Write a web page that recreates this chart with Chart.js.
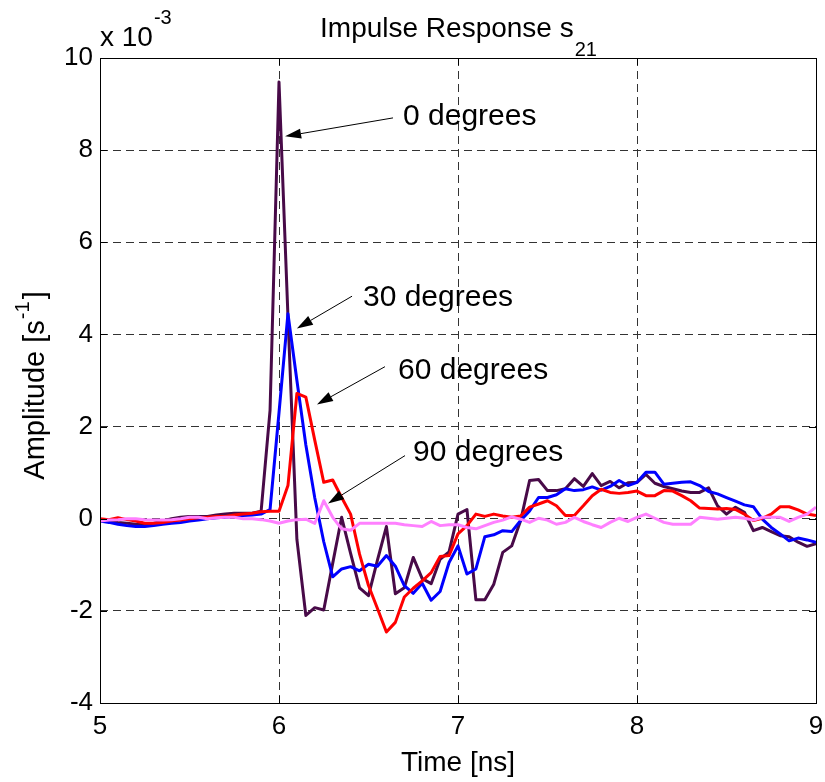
<!DOCTYPE html>
<html>
<head>
<meta charset="utf-8">
<title>Impulse Response s21</title>
<script src="https://cdn.jsdelivr.net/npm/chart.js@4.4.1/dist/chart.umd.min.js"></script>
<style>
  html, body { margin: 0; padding: 0; background: #fff; }
  #chart { display: block; }
</style>
</head>
<body>
<canvas id="chart" width="825" height="782"></canvas>
<script>
// time samples [ns]
const times = [
  5.00, 5.05, 5.10, 5.15, 5.20, 5.25, 5.30, 5.35, 5.40, 5.45,
  5.50, 5.55, 5.60, 5.65, 5.70, 5.75, 5.80, 5.85, 5.90, 5.95,
  6.00, 6.05, 6.10, 6.15, 6.20, 6.25, 6.30, 6.35, 6.40, 6.45,
  6.50, 6.55, 6.60, 6.65, 6.70, 6.75, 6.80, 6.85, 6.90, 6.95,
  7.00, 7.05, 7.10, 7.15, 7.20, 7.25, 7.30, 7.35, 7.40, 7.45,
  7.50, 7.55, 7.60, 7.65, 7.70, 7.75, 7.80, 7.85, 7.90, 7.95,
  8.00, 8.05, 8.10, 8.15, 8.20, 8.25, 8.30, 8.35, 8.40, 8.45,
  8.50, 8.55, 8.60, 8.65, 8.70, 8.75, 8.80, 8.85, 8.90, 8.95,
  9.00
];

// amplitudes in units of 1e-3 s^-1
const deg0 = [
  -0.05, -0.05, -0.08, -0.10, -0.12, -0.12, -0.10, -0.05, 0.00, 0.03,
  0.05, 0.05, 0.05, 0.08, 0.10, 0.12, 0.12, 0.12, 0.16, 2.35,
  9.48, 4.40, -0.45, -2.10, -1.93, -1.98, -0.97, 0.03, -0.75, -1.50,
  -1.67, -0.90, -0.17, -1.63, -1.50, -0.84, -1.30, -1.41, -0.88, -0.72,
  0.10, 0.20, -1.76, -1.76, -1.42, -0.73, -0.59, -0.04, 0.83, 0.85,
  0.61, 0.61, 0.65, 0.87, 0.70, 0.98, 0.72, 0.81, 0.67, 0.78,
  0.79, 0.96, 0.77, 0.70, 0.65, 0.60, 0.57, 0.57, 0.67, 0.28,
  0.10, 0.25, 0.14, -0.26, -0.19, -0.28, -0.37, -0.39, -0.51, -0.60,
  -0.54
];
const deg30 = [
  -0.05, -0.08, -0.12, -0.15, -0.17, -0.17, -0.15, -0.12, -0.10, -0.08,
  -0.05, -0.03, 0.00, 0.02, 0.03, 0.05, 0.07, 0.08, 0.10, 0.20,
  2.30, 4.45, 3.00, 1.60, 0.45, -0.50, -1.26, -1.09, -1.04, -1.13,
  -0.99, -1.03, -0.80, -1.03, -1.45, -1.62, -1.40, -1.77, -1.58, -0.95,
  -0.59, -1.20, -1.09, -0.39, -0.35, -0.26, -0.28, -0.04, 0.17, 0.46,
  0.46, 0.52, 0.65, 0.61, 0.63, 0.69, 0.62, 0.70, 0.83, 0.72,
  0.79, 1.01, 1.01, 0.75, 0.77, 0.79, 0.80, 0.72, 0.59, 0.54,
  0.46, 0.38, 0.30, 0.26, -0.01, -0.19, -0.33, -0.48, -0.42, -0.46,
  -0.51
];
const deg60 = [
  0.00, -0.02, 0.02, -0.02, -0.05, -0.10, -0.10, -0.08, -0.05, -0.03,
  0.00, 0.02, 0.03, 0.05, 0.05, 0.08, 0.10, 0.12, 0.15, 0.16,
  0.16, 0.72, 2.72, 2.64, 1.70, 0.79, 0.84, 0.46, 0.10, -0.77,
  -1.45, -1.95, -2.46, -2.25, -1.70, -1.51, -1.35, -1.17, -0.82, -0.80,
  -0.33, -0.15, 0.10, 0.05, 0.10, 0.06, 0.03, 0.06, 0.25, 0.32,
  0.39, 0.28, 0.07, 0.07, 0.28, 0.50, 0.64, 0.57, 0.55, 0.57,
  0.60, 0.50, 0.50, 0.61, 0.60, 0.50, 0.39, 0.23, 0.22, 0.21,
  0.22, 0.20, 0.10, -0.04, 0.01, 0.10, 0.26, 0.26, 0.19, 0.10,
  0.07
];
const deg90 = [
  -0.05, -0.03, -0.02, 0.00, 0.00, -0.02, -0.03, -0.03, -0.02, 0.00,
  0.03, 0.03, 0.00, 0.02, 0.03, 0.03, 0.00, 0.00, -0.02, -0.05,
  -0.10, -0.05, -0.02, -0.01, -0.10, 0.39, 0.03, -0.22, -0.25, -0.10,
  -0.10, -0.10, -0.10, -0.10, -0.13, -0.15, -0.17, -0.06, -0.15, -0.13,
  -0.13, -0.19, -0.22, -0.15, -0.08, -0.03, 0.04, -0.01, -0.08, 0.01,
  -0.03, -0.12, -0.08, 0.03, -0.06, -0.13, -0.19, -0.08, 0.01, -0.06,
  0.03, 0.10, 0.01, -0.08, -0.12, -0.12, -0.12, 0.03, 0.01, -0.01,
  0.01, 0.03, 0.01, -0.03, 0.03, 0.03, 0.03, -0.06, 0.03, 0.10,
  0.25
];

// annotation text with arrow: tip, tail and text anchor in data units
const notes = [
  { text: '0 degrees',  tip: [6.034, 8.30], tail: [6.637, 8.70], at: [6.693, 8.72] },
  { text: '30 degrees', tip: [6.100, 4.13], tail: [6.408, 4.83], at: [6.469, 4.80] },
  { text: '60 degrees', tip: [6.212, 2.48], tail: [6.592, 3.30], at: [6.665, 3.22] },
  { text: '90 degrees', tip: [6.274, 0.33], tail: [6.704, 1.37], at: [6.749, 1.43] }
];

const FONT = '"Liberation Sans", Arial, Helvetica, sans-serif';

function toPoints(vals) {
  return vals.map((v, i) => ({ x: times[i], y: v }));
}

// frame, inward ticks, titles and annotations (MATLAB style)
const matlabDecor = {
  id: 'matlabDecor',
  afterDraw(chart) {
    const ctx = chart.ctx;
    const a = chart.chartArea;
    const xs = chart.scales.x, ys = chart.scales.y;
    ctx.save();
    ctx.setLineDash([]);
    ctx.strokeStyle = '#000';
    ctx.lineWidth = 1;
    ctx.strokeRect(Math.round(a.left) + 0.5, Math.round(a.top) + 0.5,
                   Math.round(a.right - a.left), Math.round(a.bottom - a.top));

    // inward tick marks on all four sides
    const tl = 7;
    ctx.beginPath();
    xs.ticks.forEach(t => {
      const px = Math.round(xs.getPixelForValue(t.value)) + 0.5;
      ctx.moveTo(px, a.bottom); ctx.lineTo(px, a.bottom - tl);
      ctx.moveTo(px, a.top); ctx.lineTo(px, a.top + tl);
    });
    ys.ticks.forEach(t => {
      const py = Math.round(ys.getPixelForValue(t.value)) + 0.5;
      ctx.moveTo(a.left, py); ctx.lineTo(a.left + tl, py);
      ctx.moveTo(a.right, py); ctx.lineTo(a.right - tl, py);
    });
    ctx.stroke();

    ctx.fillStyle = '#000';
    ctx.textBaseline = 'alphabetic';
    const cx = (a.left + a.right) / 2;

    // title with subscript
    ctx.font = '28px ' + FONT;
    const mainT = 'Impulse Response s';
    const wMain = ctx.measureText(mainT).width;
    ctx.font = '20px ' + FONT;
    const wSub = ctx.measureText('21').width;
    let x0 = cx - (wMain + wSub) / 2;
    ctx.textAlign = 'left';
    ctx.font = '28px ' + FONT;
    ctx.fillText(mainT, x0, 37);
    ctx.font = '20px ' + FONT;
    ctx.fillText('21', x0 + wMain + 1, 56);

    // x axis title
    ctx.font = '28px ' + FONT;
    ctx.textAlign = 'center';
    ctx.fillText('Time [ns]', cx, 771);

    // exponent label
    ctx.textAlign = 'left';
    ctx.font = '28px ' + FONT;
    ctx.fillText('x 10', a.left, 46);
    const wx = ctx.measureText('x 10').width;
    ctx.font = '20px ' + FONT;
    ctx.fillText('-3', a.left + wx + 1, 24);

    // y axis title, rotated
    ctx.save();
    ctx.translate(44, (a.top + a.bottom) / 2 + 5);
    ctx.rotate(-Math.PI / 2);
    ctx.font = '29px ' + FONT;
    const yMain = 'Amplitude [s';
    const wy1 = ctx.measureText(yMain).width;
    ctx.font = '20px ' + FONT;
    const wy2 = ctx.measureText('-1').width;
    ctx.font = '29px ' + FONT;
    const wy3 = ctx.measureText(']').width;
    let sx = -(wy1 + wy2 + wy3 + 3) / 2;
    ctx.fillText(yMain, sx, 0);
    ctx.font = '20px ' + FONT;
    ctx.fillText('-1', sx + wy1 + 1, -15);
    ctx.font = '29px ' + FONT;
    ctx.fillText(']', sx + wy1 + wy2 + 3, 0);
    ctx.restore();

    // annotations with arrows
    ctx.font = '30px ' + FONT;
    ctx.textBaseline = 'middle';
    ctx.textAlign = 'left';
    notes.forEach(n => {
      const tx = xs.getPixelForValue(n.tip[0]), ty = ys.getPixelForValue(n.tip[1]);
      const bx = xs.getPixelForValue(n.tail[0]), by = ys.getPixelForValue(n.tail[1]);
      const ang = Math.atan2(ty - by, tx - bx);
      const hl = 16, hw = 5;
      const baseX = tx - hl * Math.cos(ang), baseY = ty - hl * Math.sin(ang);
      ctx.beginPath();
      ctx.moveTo(bx, by);
      ctx.lineTo(baseX, baseY);
      ctx.stroke();
      ctx.beginPath();
      ctx.moveTo(tx, ty);
      ctx.lineTo(baseX + hw * Math.sin(ang), baseY - hw * Math.cos(ang));
      ctx.lineTo(baseX - hw * Math.sin(ang), baseY + hw * Math.cos(ang));
      ctx.closePath();
      ctx.fill();
      ctx.fillText(n.text, xs.getPixelForValue(n.at[0]), ys.getPixelForValue(n.at[1]));
    });
    ctx.restore();
  }
};

const lineDefaults = {
  borderWidth: 3,
  pointRadius: 0,
  tension: 0,
  fill: false,
  borderJoinStyle: 'round'
};

new Chart(document.getElementById('chart').getContext('2d'), {
  type: 'line',
  data: {
    datasets: [
      Object.assign({ label: '0 degrees',  data: toPoints(deg0),  borderColor: '#480a48', order: 3 }, lineDefaults),
      Object.assign({ label: '30 degrees', data: toPoints(deg30), borderColor: '#0000ff', order: 2 }, lineDefaults),
      Object.assign({ label: '60 degrees', data: toPoints(deg60), borderColor: '#ff0000', order: 1 }, lineDefaults),
      Object.assign({ label: '90 degrees', data: toPoints(deg90), borderColor: '#ff80ff', order: 0 }, lineDefaults)
    ]
  },
  options: {
    responsive: false,
    animation: false,
    layout: { padding: { left: 0, right: 9, top: 58, bottom: 0 } },
    plugins: {
      legend: { display: false },
      title: { display: false },
      tooltip: { enabled: false }
    },
    scales: {
      x: {
        type: 'linear',
        min: 5,
        max: 9,
        afterFit: s => { s.height = 79; s.paddingLeft = 0; s.paddingRight = 0; },
        ticks: {
          stepSize: 1,
          color: '#000',
          padding: 8,
          maxRotation: 0,
          font: { family: FONT, size: 26 }
        },
        grid: { color: '#333', lineWidth: 1, drawTicks: false },
        border: { display: false, dash: [8, 5] }
      },
      y: {
        min: -4,
        max: 10,
        afterFit: s => { s.width = 100; s.paddingTop = 0; s.paddingBottom = 0; },
        ticks: {
          stepSize: 2,
          color: '#000',
          padding: 7,
          font: { family: FONT, size: 26 }
        },
        grid: { color: '#333', lineWidth: 1, drawTicks: false },
        border: { display: false, dash: [8, 5] }
      }
    }
  },
  plugins: [matlabDecor]
});
</script>
</body>
</html>
